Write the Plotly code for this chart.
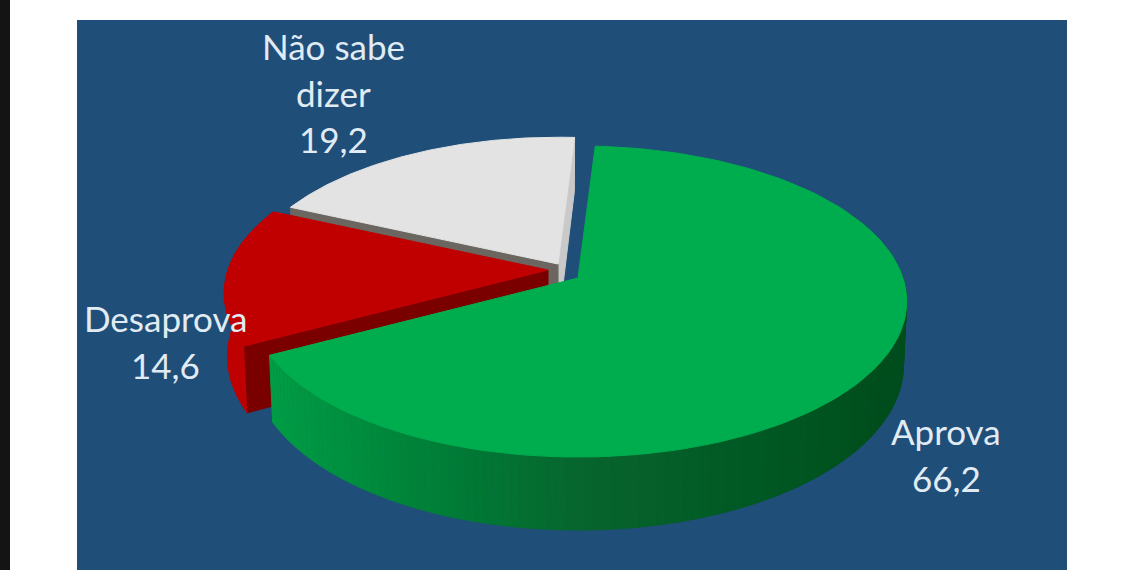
import numpy as np
import plotly.graph_objects as go

# Survey data
labels = ["Aprova", "Desaprova", "Não sabe dizer"]
values = [66.2, 14.6, 19.2]
label_lines = [["Aprova"], ["Desaprova"], ["Não sabe", "dizer"]]

# where each label block sits, in pixels
label_x = [946, 165, 333]
label_y = [431, 318, 46]
line_step = 46.5

# slice styling (same order as values)
top_colors = ["#00AD4E", "#C00000", "#E3E3E3"]
wall_colors = [None, "#BE0000", "#C9C9C9"]
cut_colors = [None, "#7A0000", "#6B6660"]
explode_dx = [0, -30, -20]
explode_dy = [0, -8, -14]
radius_scale = [1.0, 0.985, 0.96]

# pie geometry: a perspective view of a flat disc
CX, CY = 578, 278
R, H, K = 325, 152, 0.151
DEPTH = 62
START = 3.5

# green wall shading: angle -> rgb
shade_t = [90, 120, 150, 178, 200, 220, 245]
shade_r = [0, 0, 0, 8, 0, 0, 0]
shade_g = [78, 77, 88, 100, 125, 145, 160]
shade_b = [30, 28, 34, 45, 55, 64, 72]


def project(t, dx=0, dy=0, low=False, scale=1.0):
    t = np.radians(t)
    s = 1 / (1 + K * np.cos(t))
    x = CX + dx + scale * R * np.sin(t) * s
    y = CY + dy - scale * H * np.cos(t) * s
    if low:
        x = CX + dx + (x - CX - dx) * 0.99
        y = y + DEPTH * s
    return x, y


def poly(fig, x, y, color):
    fig.add_trace(go.Scatter(
        x=list(x), y=list(y), mode="lines", fill="toself", fillcolor=color,
        line=dict(color=color, width=1), hoverinfo="skip", showlegend=False
    ))


def cut_face(fig, t, dx, dy, color, scale):
    ox, oy = project(t, dx, dy, scale=scale)
    lx, ly = project(t, dx, dy, low=True, scale=scale)
    ax, ay = CX + dx, CY + dy
    poly(fig, [ax, ox, lx, ax, ax], [ay, oy, ly, ay + DEPTH, ay], color)


# slice angles, clockwise from the top
spans = [v / sum(values) * 360 for v in values]
starts = [START, START + spans[0], START + spans[0] + spans[1]]

fig = go.Figure()

# back to front: white, red, green
for i in [2, 1, 0]:
    a0, a1 = starts[i], starts[i] + spans[i]
    dx, dy, sc = explode_dx[i], explode_dy[i], radius_scale[i]
    ts = np.linspace(a0, a1, 120)

    if i == 2:
        cut_face(fig, a1, dx, dy, wall_colors[i], sc)
        cut_face(fig, a0, dx, dy, cut_colors[i], sc)
    if i == 1:
        cut_face(fig, a0, dx, dy, cut_colors[i], sc)
        ux, uy = project(ts, dx, dy, scale=sc)
        lx, ly = project(ts, dx, dy, low=True, scale=sc)
        poly(fig, list(ux) + list(lx[::-1]), list(uy) + list(ly[::-1]), wall_colors[i])
    if i == 0:
        edges = np.linspace(90, a1, 110)
        for t0, t1 in zip(edges[:-1], edges[1:]):
            mid = (t0 + t1) / 2
            col = "rgb(%d,%d,%d)" % (np.interp(mid, shade_t, shade_r),
                                     np.interp(mid, shade_t, shade_g),
                                     np.interp(mid, shade_t, shade_b))
            seg = np.array([t0, t1])
            ux, uy = project(seg, dx, dy)
            lx, ly = project(seg, dx, dy, low=True)
            poly(fig, list(ux) + list(lx[::-1]), list(uy) + list(ly[::-1]), col)
        # right end of the wall, same dark green
        seg = np.linspace(a0 + 60, 90, 30)
        ux, uy = project(seg, dx, dy)
        lx, ly = project(seg, dx, dy, low=True)
        poly(fig, list(ux) + list(lx[::-1]), list(uy) + list(ly[::-1]), "rgb(0,78,30)")

    ox, oy = project(ts, dx, dy, scale=sc)
    ax, ay = CX + dx, CY + dy
    poly(fig, [ax] + list(ox) + [ax], [ay] + list(oy) + [ay], top_colors[i])

# Labels
for i in range(len(labels)):
    rows = label_lines[i] + [f"{values[i]:.1f}".replace(".", ",")]
    for j, row in enumerate(rows):
        fig.add_annotation(
            x=label_x[i], y=label_y[i] + j * line_step, text=row, showarrow=False,
            xanchor="center", yanchor="middle",
            font=dict(family="Lato", size=35, color="#E1EBF3")
        )

fig.update_layout(
    width=1140, height=570, autosize=False,
    margin=dict(l=0, r=0, t=0, b=0),
    paper_bgcolor="white", plot_bgcolor="white",
    showlegend=False,
    xaxis=dict(range=[0, 1140], visible=False, fixedrange=True),
    yaxis=dict(range=[570, 0], visible=False, fixedrange=True),
    shapes=[
        dict(type="rect", layer="below", x0=0, x1=10, y0=0, y1=570,
             fillcolor="#141414", line_width=0),
        dict(type="rect", layer="below", x0=77, x1=1067, y0=20, y1=570,
             fillcolor="#1F4E79", line_width=0),
    ],
)

fig.write_html("out.html", config=dict(displayModeBar=False),
               post_script="document.body.style.margin='0';")
